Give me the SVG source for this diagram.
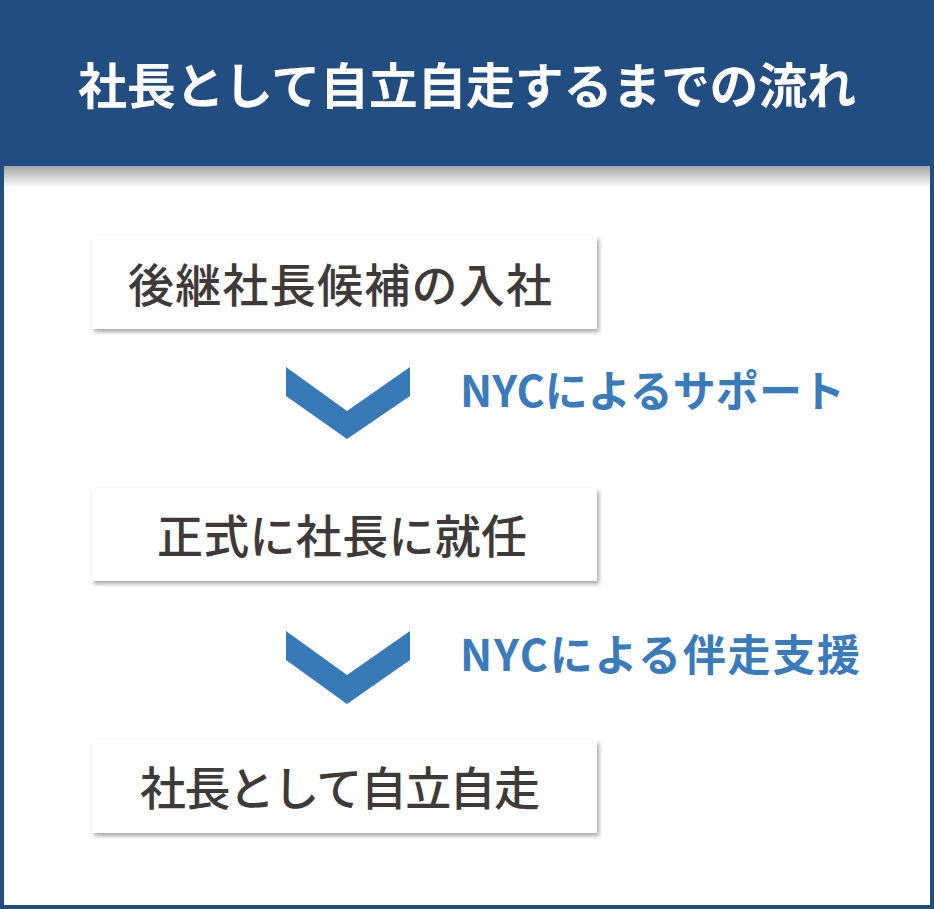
<svg xmlns="http://www.w3.org/2000/svg" width="934" height="909" viewBox="0 0 934 909">
<style>
.title{font-family:"Noto Sans CJK JP","Noto Sans CJK SC",sans-serif;font-weight:700;font-size:49px;fill:#ffffff}
.box{fill:#ffffff;filter:url(#sh)}
.btxt{font-family:"Noto Sans CJK JP","Noto Sans CJK SC",sans-serif;font-weight:500;font-size:46px;fill:#3e3a39}
.lbl{font-family:"Noto Sans CJK JP","Noto Sans CJK SC",sans-serif;font-weight:700;font-size:43px;fill:#3a7bbb}
.chev{fill:#377ab7}
</style>
<defs>
<filter id="sh" x="-5%" y="-10%" width="112%" height="130%">
<feDropShadow dx="2" dy="3" stdDeviation="2" flood-color="#000" flood-opacity="0.35"/>
</filter>
<linearGradient id="hs" x1="0" y1="0" x2="0" y2="1">
<stop offset="0" stop-color="#000" stop-opacity="0.35"/>
<stop offset="1" stop-color="#000" stop-opacity="0"/>
</linearGradient>
</defs>
<rect x="0" y="0" width="934" height="909" fill="#ffffff"/>
<rect x="0" y="166" width="934" height="22" fill="url(#hs)"/>
<rect x="2" y="2" width="930" height="905" fill="none" stroke="#214d80" stroke-width="4"/>
<g id="header">
<rect x="0" y="0" width="934" height="166" fill="#214d80"/>
<text class="title" x="467" y="104" text-anchor="middle" textLength="778">社長として自立自走するまでの流れ</text>
</g>
<g id="node1">
<rect class="box" x="92" y="236" width="505" height="93"/>
<text class="btxt" x="340" y="302" text-anchor="middle" textLength="424">後継社長候補の入社</text>
</g>
<g id="node2">
<rect class="box" x="92" y="488" width="505" height="93"/>
<text class="btxt" x="342" y="553" text-anchor="middle" textLength="370">正式に社長に就任</text>
</g>
<g id="node3">
<rect class="box" x="92" y="740" width="505" height="93"/>
<text class="btxt" x="340" y="805" text-anchor="middle" textLength="400">社長として自立自走</text>
</g>
<g id="connectors">
<polygon class="chev" points="286,367 347,411 410,367 410,396 347,439 286,396"/>
<polygon class="chev" points="286,631 347,675 410,631 410,660 347,704 286,660"/>
</g>
<g id="label1">
<text class="lbl" x="460" y="407" textLength="385">NYCによるサポート</text>
</g>
<g id="label2">
<text class="lbl" x="460" y="671" textLength="400">NYCによる伴走支援</text>
</g>
</svg>
